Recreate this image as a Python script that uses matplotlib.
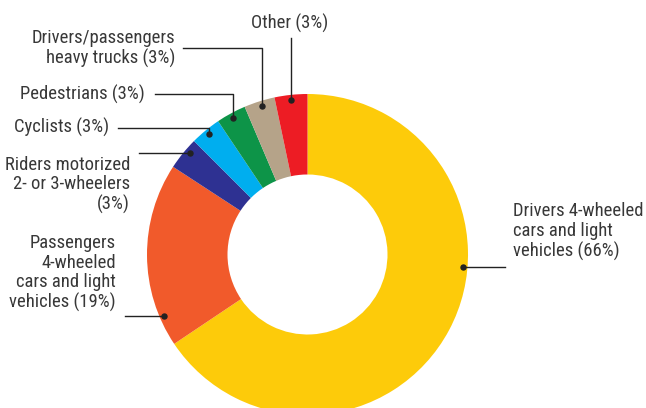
import numpy as np
import matplotlib
matplotlib.use("Agg")
from matplotlib import pyplot as plt

# Share of road deaths by road user type (clockwise from the top)
labels = ["Drivers 4-wheeled\ncars and light\nvehicles (66%)",
          "Passengers\n4-wheeled\ncars and light\nvehicles (19%)",
          "Riders motorized\n2- or 3-wheelers\n(3%)",
          "Cyclists (3%)",
          "Pedestrians (3%)",
          "Drivers/passengers\nheavy trucks (3%)",
          "Other (3%)"]
shares = [65.6, 18.6, 3.3, 3.1, 3.0, 3.1, 3.3]
colors = ["#FDCB0A", "#F15A2B", "#2E3192", "#00AEEF", "#0D9448", "#B5A389", "#ED1C24"]

W, H = 646, 408
cx, cy = 307.5, H - 254.5
R, hole = 160.5, 80

plt.rcParams['font.family'] = ['Roboto Condensed', 'DejaVu Sans']

fig = plt.figure(figsize=(W / 100, H / 100), dpi=100)
ax = fig.add_axes([0, 0, 1, 1])
ax.pie(shares, colors=colors, startangle=90, counterclock=False,
       radius=R, center=(cx, cy), frame=True,
       wedgeprops=dict(width=R - hole, linewidth=0))
ax.set_xlim(0, W)
ax.set_ylim(0, H)
ax.set_aspect("equal")
ax.axis("off")

# where along each wedge the leader dot sits (0 = start, 1 = end, clockwise)
dot_frac = [0.40, 0.16, 0.65, 0.5, 0.5, 0.55, 0.5]
cum = np.concatenate([[0], np.cumsum(shares)]) / sum(shares)
dots = []
for i in range(len(shares)):
    f = cum[i] + dot_frac[i] * (cum[i + 1] - cum[i])
    a = np.radians(90 - 360 * f)
    dots.append((cx + 0.97 * R * np.cos(a), cy + 0.97 * R * np.sin(a)))

txt = dict(fontsize=13.4, color="#383838", linespacing=1.12)
lk = dict(color="#222222", lw=1.0)

def y(px):
    return H - px

# Drivers 4-wheeled
dx, dy = dots[0]
ax.plot([dx, 505], [dy, dy], **lk)
ax.text(512.7, y(231.7), labels[0], ha="left", va="center", ma="left", **txt)
# Passengers
dx, dy = dots[1]
ax.plot([125, dx], [dy, dy], **lk)
ax.text(116, y(273), labels[1], ha="right", va="center", ma="right", **txt)
# Riders
dx, dy = dots[2]
ax.plot([139.3, dx], [dy, dy], **lk)
ax.text(130, y(185), labels[2], ha="right", va="center", ma="right", **txt)
# Cyclists
dx, dy = dots[3]
ax.plot([118, dx, dx], [y(127.7), y(127.7), dy], **lk)
ax.text(109, y(127.7), labels[3], ha="right", va="center", **txt)
# Pedestrians
dx, dy = dots[4]
ax.plot([155, dx, dx], [y(94), y(94), dy], **lk)
ax.text(145, y(94), labels[4], ha="right", va="center", **txt)
# Heavy trucks
dx, dy = dots[5]
ax.plot([182.7, dx, dx], [y(48), y(48), dy], **lk)
ax.text(175, y(48.5), labels[5], ha="right", va="center", ma="right", **txt)
# Other
dx, dy = dots[6]
ax.plot([dx, dx], [y(38), dy], **lk)
ax.text(dx - 2, y(23), labels[6], ha="center", va="center", **txt)

ax.plot([d[0] for d in dots], [d[1] for d in dots], "o", color="#222222",
        markersize=3.6, zorder=5)

fig.savefig("out.png", dpi=100)
